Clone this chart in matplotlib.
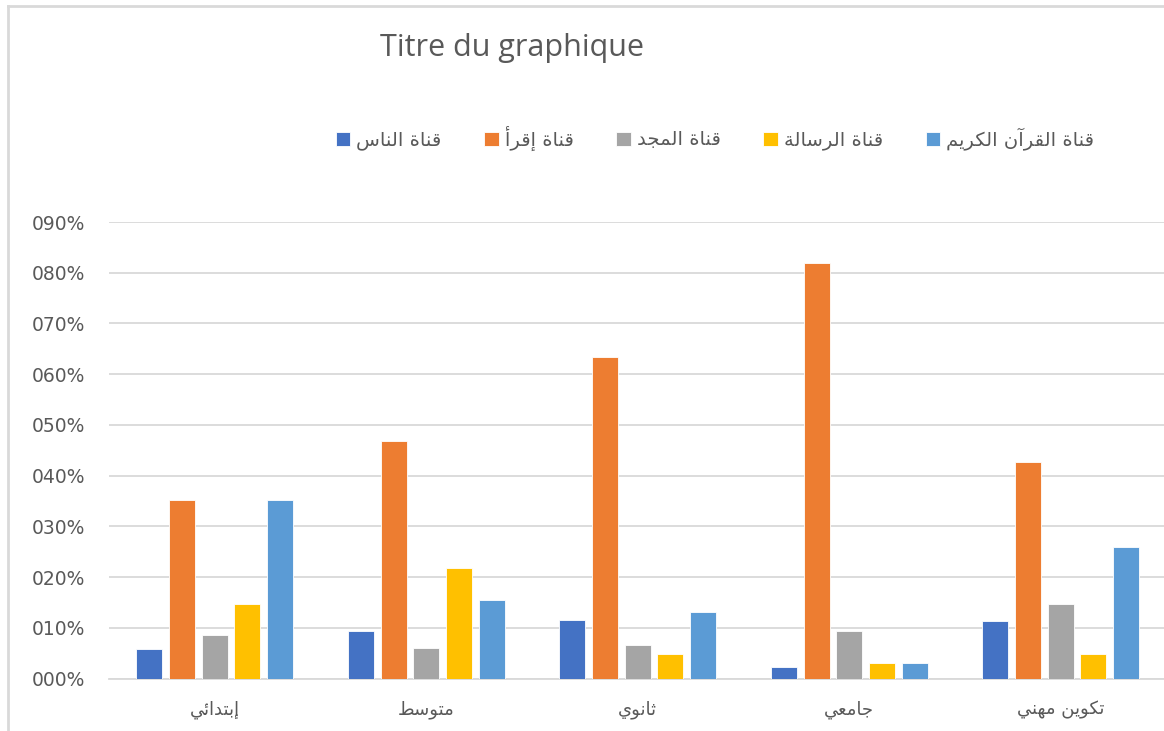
import numpy as np
import matplotlib
matplotlib.use("Agg")
import matplotlib.pyplot as plt
from matplotlib.ticker import FuncFormatter, MultipleLocator
from matplotlib.lines import Line2D

# data (fractions)
levels = ["إبتدائي", "متوسط", "ثانوي", "جامعي", "تكوين مهني"]
channels = ["قناة الناس", "قناة إقرأ", "قناة المجد", "قناة الرسالة", "قناة القرآن الكريم"]
nas = [0.058, 0.094, 0.116, 0.023, 0.114]
iqraa = [0.352, 0.468, 0.633, 0.820, 0.426]
majd = [0.086, 0.060, 0.066, 0.094, 0.147]
risala = [0.147, 0.218, 0.048, 0.031, 0.048]
quran = [0.352, 0.154, 0.131, 0.031, 0.260]
series = [nas, iqraa, majd, risala, quran]
colors = ["#4472C4", "#ED7D31", "#A5A5A5", "#FFC000", "#5B9BD5"]

# small arabic shaper (matplotlib has no bidi / joining)
RIGHT = {'آ': 0xFE81, 'أ': 0xFE83, 'إ': 0xFE87, 'ا': 0xFE8D, 'ة': 0xFE93,
         'د': 0xFEA9, 'ذ': 0xFEAB, 'ر': 0xFEAD, 'ز': 0xFEAF, 'و': 0xFEED, 'ى': 0xFEEF}
DUAL = {'ئ': 0xFE89, 'ب': 0xFE8F, 'ت': 0xFE95, 'ث': 0xFE99, 'ج': 0xFE9D, 'ح': 0xFEA1,
        'خ': 0xFEA5, 'س': 0xFEB1, 'ش': 0xFEB5, 'ص': 0xFEB9, 'ض': 0xFEBD, 'ط': 0xFEC1,
        'ظ': 0xFEC5, 'ع': 0xFEC9, 'غ': 0xFECD, 'ف': 0xFED1, 'ق': 0xFED5, 'ك': 0xFED9,
        'ل': 0xFEDD, 'م': 0xFEE1, 'ن': 0xFEE5, 'ه': 0xFEE9, 'ي': 0xFEF1}
LAM_ALEF = {'آ': 0xFEF5, 'أ': 0xFEF7, 'إ': 0xFEF9, 'ا': 0xFEFB}


def shape(text):
    out = []
    i = 0
    while i < len(text):
        c = text[i]
        prev_j = i > 0 and text[i - 1] in DUAL
        nxt = text[i + 1] if i + 1 < len(text) else ''
        if c == 'ل' and nxt in LAM_ALEF:
            out.append(chr(LAM_ALEF[nxt] + (1 if prev_j else 0)))
            i += 2
            continue
        next_j = nxt in DUAL or nxt in RIGHT
        if c in DUAL:
            k = {(False, False): 0, (True, False): 1, (False, True): 2, (True, True): 3}[(prev_j, next_j)]
            out.append(chr(DUAL[c] + k))
        elif c in RIGHT:
            out.append(chr(RIGHT[c] + (1 if prev_j else 0)))
        else:
            out.append(c)
        i += 1
    return ''.join(reversed(out))


W, H = 1164, 731
fig = plt.figure(figsize=(W / 100, H / 100), dpi=100)
ax = fig.add_axes([109 / W, (H - 678.5) / H, 1057.5 / W, 456.5 / H])

x = np.arange(len(levels))
pitch = 0.1547
width = 0.123
for k, (vals, col, name) in enumerate(zip(series, colors, channels)):
    ax.bar(x + (k - 2) * pitch, vals, width, color=col, label=shape(name),
           edgecolor="white", linewidth=0.6, zorder=3)

ax.set_xlim(-0.5, len(levels) - 0.5)
ax.set_ylim(0, 0.9)
ax.yaxis.set_major_locator(MultipleLocator(0.1))
ax.yaxis.set_major_formatter(FuncFormatter(lambda v, p: f"{round(v * 100):03d}%"))
ax.grid(axis="y", color="#d9d9d9", linewidth=1.3, zorder=0)
for s in ["top", "right", "left"]:
    ax.spines[s].set_visible(False)
ax.spines["bottom"].set_color("#d9d9d9")
ax.spines["bottom"].set_linewidth(1.3)
ax.tick_params(axis="y", length=0, pad=17, labelsize=13.5, labelcolor="#595959")
ax.tick_params(axis="x", length=0, pad=16, labelsize=13, labelcolor="#595959")
ax.set_xticks(x)
ax.set_xticklabels([shape(l) for l in levels])

fig.text(512 / W, 1 - 48 / H, "Titre du graphique", ha="center", va="center",
         fontsize=22, color="#595959", family="Open Sans")

leg = fig.legend(loc="center", bbox_to_anchor=(715 / W, 1 - 138 / H), ncol=5,
                 frameon=False, fontsize=14, handlelength=0.75, handleheight=0.75,
                 handletextpad=0.3, columnspacing=2.2)
for t in leg.get_texts():
    t.set_color("#595959")

# chart border (left and top visible)
fig.add_artist(Line2D([8 / W, 8 / W], [0, 1 - 6 / H], color="#d9d9d9", linewidth=2))
fig.add_artist(Line2D([8 / W, 1], [1 - 6 / H, 1 - 6 / H], color="#d9d9d9", linewidth=2))

fig.savefig("out.png", dpi=100)
